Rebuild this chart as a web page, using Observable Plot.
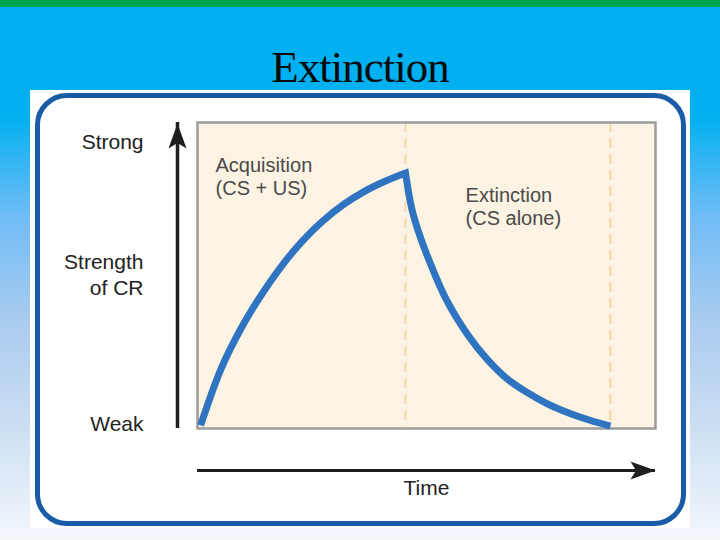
<!DOCTYPE html>
<html>
<head>
<meta charset="utf-8">
<script src="https://cdn.jsdelivr.net/npm/d3@7"></script>
<script src="https://cdn.jsdelivr.net/npm/@observablehq/plot@0.6"></script>
<style>
  html, body { margin: 0; padding: 0; }
  #slide {
    position: relative; width: 720px; height: 540px; overflow: hidden;
    background: linear-gradient(to bottom,
      #00A551 0px, #00A551 7px, #00B0F0 7px, #00B0F0 115px,
      #6FBCF6 215px, #A9CBEF 320px, #CADDF2 420px, #F3F7FC 540px);
    font-family: "Liberation Sans", Arial, Helvetica, sans-serif;
  }
  #title {
    position: absolute; left: 0; top: 45px; width: 720px; text-align: center;
    font-family: "Liberation Serif", "Times New Roman", serif;
    font-size: 45px; line-height: 45px; letter-spacing: -1px; color: #0a0a0a;
  }
  #panel {
    position: absolute; left: 30px; top: 90px; width: 660px; height: 438px; background: #fff;
  }
  #border {
    position: absolute; left: 5px; top: 3px; width: 651px; height: 433px;
    box-sizing: border-box; border: 5.5px solid #1A5BA8; border-radius: 32px;
  }
  #chart { position: absolute; left: 0; top: 0; }
</style>
</head>
<body>
<div id="slide">
  <div id="title">Extinction</div>
  <div id="panel">
    <div id="border"></div>
    <div id="chart"></div>
  </div>
</div>
<script>
// ---- data ----
const acqTime     = [0, 1, 2, 3, 4, 5, 6, 7, 8, 9, 10];
const acqStrength = [1, 19.5, 33, 44, 53.5, 61.5, 68, 73.3, 77.5, 80.8, 83.5];
const extTime     = [10, 10.3, 10.6, 11, 12, 13, 14, 15, 16, 17, 18, 19, 20];
const extStrength = [83.5, 72, 65, 57.5, 42, 31, 22.5, 16, 11.5, 7.8, 5, 2.7, 0.8];
const phaseBounds = [10, 20];
const yLabels   = ["Strong", "Strength\nof CR", "Weak"];
const yLabelPos = [94, 50.5, 2];
const annText   = ["Acquisition\n(CS + US)", "Extinction\n(CS alone)"];
const annTime   = [0.73, 12.93];
const annLevel  = [82.5, 72.7];
const xLabel    = "Time";

const xDomain = [-0.15, 22.2];
const yDomain = [0, 100];

const curveData = [
  ...acqTime.map((t, i) => ({time: t, strength: acqStrength[i], phase: "acq"})),
  ...extTime.slice(1).map((t, i) => ({time: t, strength: extStrength[i + 1], phase: "ext"}))
];
const annotations = annText.map((t, i) => ({text: t, time: annTime[i], level: annLevel[i]}));
const yTicks = yLabels.map((t, i) => ({text: t, level: yLabelPos[i]}));

// smooth spline on each side of the peak, with a sharp corner at the peak
function peakCurve(context) {
  let pts;
  const inner = d3.curveCatmullRom.alpha(0.5);
  const proxy = {
    moveTo(x, y) { context.lineTo(x, y); },
    lineTo(x, y) { context.lineTo(x, y); },
    bezierCurveTo(a, b, c, d, e, f) { context.bezierCurveTo(a, b, c, d, e, f); },
    closePath() {}
  };
  return {
    areaStart() {}, areaEnd() {},
    lineStart() { pts = []; },
    point(x, y) { pts.push([+x, +y]); },
    lineEnd() {
      const k = d3.minIndex(pts, p => p[1]);
      const a = inner(context);
      a.lineStart(); pts.slice(0, k + 1).forEach(p => a.point(p[0], p[1])); a.lineEnd();
      if (k < pts.length - 1) {
        const b = inner(proxy);
        b.lineStart(); pts.slice(k).forEach(p => b.point(p[0], p[1])); b.lineEnd();
      }
    }
  };
}

const arrowHead = {
  draw(ctx) {
    ctx.moveTo(0, -12.5);
    ctx.lineTo(9, 12.5);
    ctx.lineTo(0, 7);
    ctx.lineTo(-9, 12.5);
    ctx.closePath();
  }
};

const ink = "#1f1f1f";
const chart = Plot.plot({
  width: 660, height: 438,
  marginLeft: 167, marginRight: 35, marginTop: 32, marginBottom: 100,
  x: {domain: xDomain, axis: null},
  y: {domain: yDomain, axis: null},
  style: {background: "transparent", fontFamily: "'Liberation Sans', Arial, Helvetica, sans-serif", overflow: "visible"},
  marks: [
    Plot.frame({fill: "#FDF3E3", stroke: null}),
    Plot.ruleX(phaseBounds, {stroke: "#F2D8A8", strokeWidth: 2, strokeDasharray: "10,6"}),
    Plot.frame({stroke: "#9C9C9C", strokeWidth: 2.5}),
    Plot.line(curveData, {x: "time", y: "strength", curve: peakCurve, stroke: "#2F74C0",
      strokeWidth: 7, strokeLinecap: "butt", strokeLinejoin: "miter", strokeMiterlimit: 10}),
    // axes with arrows
    Plot.ruleX([xDomain[0]], {dx: -20, stroke: ink, strokeWidth: 3.5}),
    Plot.ruleY([yDomain[0]], {dy: 42, stroke: ink, strokeWidth: 3}),
    Plot.dot([0], {x: () => xDomain[0], y: () => yDomain[1], dx: -20, dy: 13.5,
      symbol: arrowHead, fill: ink, stroke: "none"}),
    Plot.dot([0], {x: () => xDomain[1], y: () => yDomain[0], dx: -12.5, dy: 42, rotate: 90,
      symbol: arrowHead, fill: ink, stroke: "none"}),
    // axis labels
    Plot.text(yTicks, {y: "level", text: "text", frameAnchor: "left", dx: -54,
      textAnchor: "end", lineAnchor: "middle", lineHeight: 1.22, fontSize: 21, fill: "#222"}),
    Plot.text([xLabel], {text: d => d, frameAnchor: "bottom", dy: 60,
      lineAnchor: "middle", fontSize: 21, fill: "#222"}),
    // phase annotations
    Plot.text(annotations, {x: "time", y: "level", text: "text", textAnchor: "start",
      lineAnchor: "middle", lineHeight: 1.15, fontSize: 20, fill: "#4a4a4a"})
  ]
});
document.getElementById("chart").appendChild(chart);
</script>
</body>
</html>
